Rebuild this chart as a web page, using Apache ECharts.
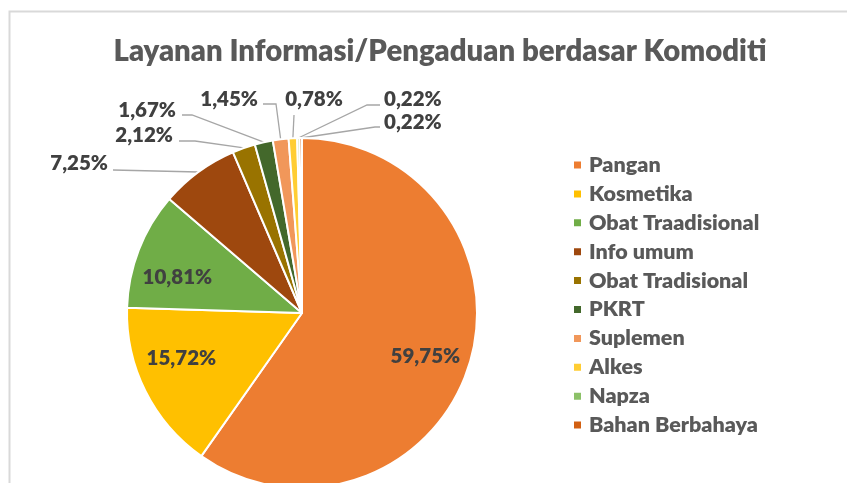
<!DOCTYPE html>
<html>
<head>
<meta charset="utf-8">
<script src="https://cdn.jsdelivr.net/npm/echarts@6/dist/echarts.min.js"></script>
<style>
  html, body { margin: 0; padding: 0; background: #ffffff; }
  #chart { width: 847px; height: 483px; }
</style>
</head>
<body>
<div id="chart"></div>
<script>
// Complaint / information requests by commodity (percent of total)
const categories = [
  'Pangan', 'Kosmetika', 'Obat Traadisional', 'Info umum', 'Obat Tradisional',
  'PKRT', 'Suplemen', 'Alkes', 'Napza', 'Bahan Berbahaya'
];
const shares = [59.75, 15.72, 10.81, 7.25, 2.12, 1.67, 1.45, 0.78, 0.22, 0.22];
const sliceColors = [
  '#ED7D31', '#FFC000', '#70AD47', '#9E480E', '#997300',
  '#43682B', '#F1975A', '#FFCD33', '#8CC168', '#D26012'
];
// slices whose value is printed inside the pie
const insideLabelCount = 3;

// Placement of the callout labels for the thin slices (text anchor + leader line path)
const calloutSpots = {
  3: { x: 108, y: 163, align: 'right',  path: [[113, 170]] },
  4: { x: 173, y: 135, align: 'right',  path: [[179, 141], [195, 141]] },
  5: { x: 176, y: 110, align: 'right',  path: [[182, 115], [192, 115]] },
  6: { x: 258, y: 99,  align: 'right',  path: [[263, 104], [276, 104]] },
  7: { x: 314, y: 99,  align: 'center', path: [[294, 115]] },
  8: { x: 384, y: 99,  align: 'left',   path: [[380, 105], [367, 105]] },
  9: { x: 384, y: 122, align: 'left',   path: [[380, 127], [375, 127]] }
};
// small nudges of the labels printed inside the large slices
const insideNudges = { 0: [-2, 4], 1: [-3, -13], 2: [-2, 12] };

const FONT = 'Lato';
const WEIGHT = 800;
const fmt = v => v.toFixed(2).replace('.', ',') + '%';

const chart = echarts.init(document.getElementById('chart'), null, { renderer: 'canvas' });

const pieData = categories.map((name, i) => ({
  name: name,
  value: shares[i],
  itemStyle: { color: sliceColors[i] },
  label: { show: i >= insideLabelCount },
  labelLine: { show: i >= insideLabelCount }
}));

// transparent ring that only carries the labels printed on the large slices
const innerLabelData = categories.map((name, i) => ({
  name: name,
  value: shares[i],
  label: { show: i < insideLabelCount }
}));

chart.setOption({
  animation: false,
  backgroundColor: '#ffffff',
  graphic: [{
    type: 'rect',
    shape: { x: 9.5, y: 11.5, width: 900, height: 600 },
    style: { fill: 'none', stroke: '#d9d9d9', lineWidth: 2 },
    silent: true
  }],
  title: {
    text: 'Layanan Informasi/Pengaduan berdasar Komoditi',
    left: 435,
    textAlign: 'center',
    top: 32,
    textStyle: {
      fontFamily: FONT,
      fontWeight: WEIGHT,
      fontSize: 29.3,
      color: '#595959'
    }
  },
  legend: {
    orient: 'vertical',
    left: 572,
    top: 154,
    padding: 0,
    icon: 'rect',
    itemWidth: 9,
    itemHeight: 9,
    itemGap: 6.9,
    data: categories,
    textStyle: {
      fontFamily: FONT,
      fontWeight: WEIGHT,
      fontSize: 21.5,
      lineHeight: 20,
      color: '#595959',
      padding: [0, 0, 0, 2]
    },
    selectedMode: false
  },
  series: [
    {
      type: 'pie',
      center: [302, 313],
      radius: [0, 175],
      startAngle: 90,
      clockwise: true,
      avoidLabelOverlap: false,
      itemStyle: { borderColor: '#ffffff', borderWidth: 2 },
      label: {
        position: 'outside',
        formatter: p => fmt(p.value),
        fontFamily: FONT,
        fontWeight: WEIGHT,
        fontSize: 20.5,
        color: '#404040'
      },
      labelLine: {
        lineStyle: { color: '#a6a6a6', width: 1.3 },
        length: 10,
        length2: 10
      },
      labelLayout: function (p) {
        const spot = calloutSpots[p.dataIndex];
        if (!spot || !p.labelLinePoints) return {};
        const pts = [p.labelLinePoints[0]].concat(spot.path.slice().reverse());
        return {
          x: spot.x,
          y: spot.y,
          align: spot.align,
          verticalAlign: 'middle',
          labelLinePoints: pts
        };
      },
      emphasis: { disabled: true },
      data: pieData
    },
    {
      type: 'pie',
      center: [302, 313],
      radius: [82, 175],
      startAngle: 90,
      clockwise: true,
      silent: true,
      avoidLabelOverlap: false,
      itemStyle: { color: 'rgba(0,0,0,0)', borderWidth: 0 },
      label: {
        position: 'inside',
        formatter: p => fmt(p.value),
        fontFamily: FONT,
        fontWeight: WEIGHT,
        fontSize: 20.5,
        color: '#404040'
      },
      labelLine: { show: false },
      labelLayout: function (p) {
        const n = insideNudges[p.dataIndex];
        return n ? { dx: n[0], dy: n[1] } : {};
      },
      emphasis: { disabled: true },
      data: innerLabelData
    }
  ]
});
</script>
</body>
</html>
